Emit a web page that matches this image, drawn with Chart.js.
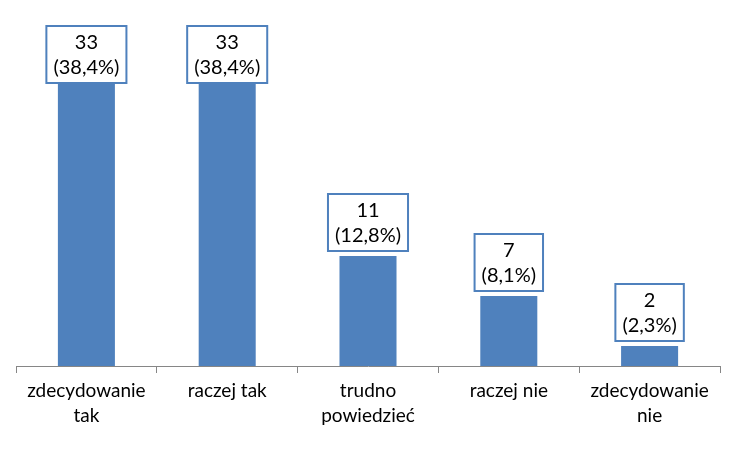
<!DOCTYPE html>
<html>
<head>
<meta charset="utf-8">
<script src="https://cdn.jsdelivr.net/npm/chart.js@4"></script>
<style>
  html, body { margin: 0; padding: 0; background: #fff; }
  #wrap { width: 750px; height: 450px; }
</style>
</head>
<body>
<div id="wrap"><canvas id="myChart" width="750" height="450"></canvas></div>
<script>
const categories = [
  ["zdecydowanie", "tak"],
  ["raczej tak"],
  ["trudno", "powiedzieć"],
  ["raczej nie"],
  ["zdecydowanie", "nie"],
];
const counts = [33, 33, 11, 7, 2];
const percents = ["38,4%", "38,4%", "12,8%", "8,1%", "2,3%"];

const barColor = "#4F81BD";
const fontFamily = "Lato, 'Open Sans', sans-serif";

// white boxes with count + percent above each bar
const labelBoxes = {
  id: "labelBoxes",
  afterDatasetsDraw(chart) {
    const ctx = chart.ctx;
    const bars = chart.getDatasetMeta(0).data;
    ctx.save();
    ctx.font = "20px " + fontFamily;
    ctx.textAlign = "center";
    ctx.textBaseline = "middle";
    bars.forEach((bar, i) => {
      const lines = [String(counts[i]), "(" + percents[i] + ")"];
      const w = Math.max(...lines.map((t) => ctx.measureText(t).width)) + 14;
      const h = 57;
      let top = bar.y - 5 - h;
      if (top < 26) top = 26;
      const left = bar.x - w / 2;
      ctx.fillStyle = "#fff";
      ctx.fillRect(left, top, w, h);
      ctx.strokeStyle = barColor;
      ctx.lineWidth = 2;
      ctx.strokeRect(left, top, w, h);
      ctx.fillStyle = "#000";
      ctx.fillText(lines[0], bar.x, top + 17);
      ctx.fillText(lines[1], bar.x, top + 42);
    });
    ctx.restore();
  },
};

const ctx = document.getElementById("myChart");
new Chart(ctx, {
  type: "bar",
  data: {
    labels: categories,
    datasets: [
      {
        data: counts,
        backgroundColor: barColor,
        categoryPercentage: 1,
        barPercentage: 0.405,
      },
    ],
  },
  options: {
    responsive: false,
    animation: false,
    layout: { padding: { left: 16, right: 30, top: 16, bottom: 0 } },
    plugins: { legend: { display: false }, tooltip: { enabled: false } },
    scales: {
      y: { display: false, min: 0, max: 35 },
      x: {
        afterFit: (s) => { s.height = 84; },
        border: { color: "#868686", width: 1 },
        grid: {
          offset: true,
          drawOnChartArea: false,
          drawTicks: true,
          tickLength: 7,
          color: "#868686",
        },
        ticks: {
          color: "#000",
          padding: 6,
          maxRotation: 0,
          font: { family: fontFamily, size: 19, lineHeight: 1.3 },
        },
      },
    },
  },
  plugins: [labelBoxes],
});
</script>
</body>
</html>
